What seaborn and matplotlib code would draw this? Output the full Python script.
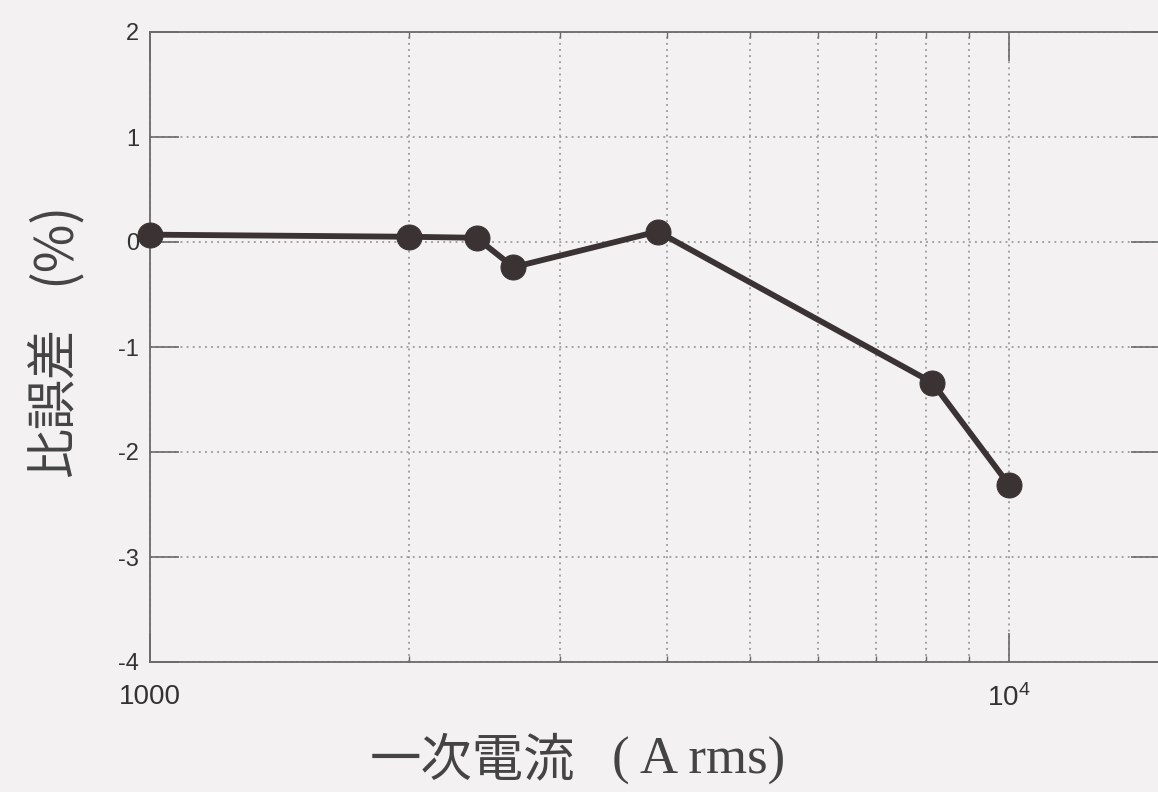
import matplotlib
matplotlib.use("Agg")
import matplotlib.pyplot as plt
import matplotlib.ticker as mticker
import numpy as np
import pandas as pd
import seaborn as sns

# Measured ratio error vs. primary current
current_arms = [1000, 2000, 2400, 2650, 3900, 8150, 10000]
ratio_error_pct = [0.07, 0.05, 0.04, -0.24, 0.10, -1.34, -2.31]

x_tick_values = [1000, 10000]
x_tick_labels = ["1000", r"$10^4$"]
y_tick_values = [2, 1, 0, -1, -2, -3, -4]

df = pd.DataFrame({"current": current_arms, "error": ratio_error_pct})

sns.set_theme(style="ticks")
plt.rcParams["font.family"] = ["Liberation Sans", "Noto Sans CJK JP"]
plt.rcParams["mathtext.fontset"] = "custom"
plt.rcParams["mathtext.rm"] = "Liberation Sans"
plt.rcParams["mathtext.it"] = "Liberation Sans"

bg = "#f3f1f2"
fig = plt.figure(figsize=(11.58, 7.92), dpi=100, facecolor=bg)
ax = fig.add_axes([150 / 1158, 1 - 662 / 792, 1010 / 1158, 630 / 792])
ax.set_facecolor(bg)

ax.set_xscale("log")
ax.set_xlim(1000, 15000)
ax.set_ylim(-4, 2)

line_color = "#3b3234"
sns.lineplot(data=df, x="current", y="error", ax=ax, sort=False,
             estimator=None, color=line_color, linewidth=4.2,
             marker="o", markersize=18, markeredgecolor=line_color,
             markerfacecolor=line_color, zorder=5, clip_on=False)

ax.xaxis.set_major_locator(mticker.FixedLocator(x_tick_values))
ax.xaxis.set_major_formatter(mticker.FixedFormatter(x_tick_labels))
ax.xaxis.set_minor_locator(mticker.LogLocator(base=10, subs=np.arange(2, 10)))
ax.xaxis.set_minor_formatter(mticker.NullFormatter())
ax.set_yticks(y_tick_values)
ax.set_yticklabels([str(v) for v in y_tick_values])

grid_kw = dict(color="#8a8a8a", linestyle=(0, (1.2, 2.8)), linewidth=1.1)
ax.grid(True, which="major", axis="both", **grid_kw)
ax.grid(True, which="minor", axis="x", **grid_kw)

spine_color = "#6a6a6a"
for s in ax.spines.values():
    s.set_color(spine_color)
    s.set_linewidth(1.3)

ax.tick_params(which="major", direction="in", length=21, width=1.2,
               color=spine_color, top=True, right=True, labelcolor="#333333")
ax.tick_params(which="minor", direction="in", length=4, width=1.0,
               color=spine_color, top=True, right=True)
ax.tick_params(axis="x", which="major", pad=16, labelsize=20)
ax.tick_params(axis="y", which="major", pad=8, labelsize=17)

ax.set_xlabel("")
ax.set_ylabel("")

# Axis titles
fig.text(472 / 1158, 1 - 761 / 792, "一次電流",
         family=["Noto Sans CJK JP"], fontsize=37,
         color="#444444", ha="center", va="center")
fig.text(612 / 1158, 1 - 761 / 792, "( A rms)",
         family=["Liberation Serif"], fontsize=38,
         color="#444444", ha="left", va="center")
fig.text(53 / 1158, 1 - 402 / 792, "比誤差",
         family=["Noto Sans CJK JP"], fontsize=36, color="#444444",
         rotation=90, ha="center", va="center")
fig.text(53 / 1158, 1 - 243 / 792, "(%)",
         family=["Noto Sans CJK JP"], fontsize=38, color="#444444",
         rotation=90, ha="center", va="center")

fig.savefig("out.png", dpi=100, facecolor=bg)
